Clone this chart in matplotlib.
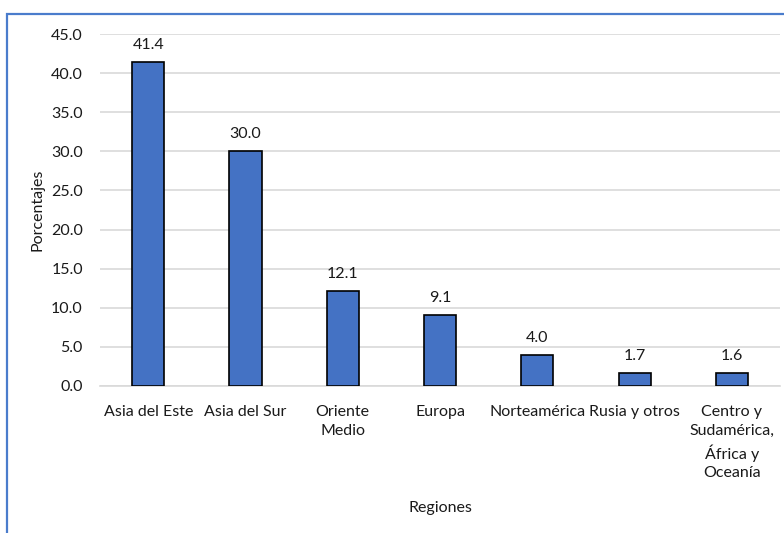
import matplotlib.pyplot as plt
from matplotlib.patches import Rectangle

regiones = ["Asia del Este", "Asia del Sur", "Oriente\nMedio", "Europa",
            "Norteamérica", "Rusia y otros",
            "Centro y\nSudamérica,\nÁfrica y\nOceanía"]
porcentajes = [41.4, 30.0, 12.1, 9.1, 4.0, 1.7, 1.6]
yticks = [0, 5, 10, 15, 20, 25, 30, 35, 40, 45]

plt.rcParams['font.family'] = ['Lato', 'DejaVu Sans']

fig = plt.figure(figsize=(7.84, 5.33), dpi=100)
ax = fig.add_axes([0.127, 0.2758, 0.8685, 0.6604])

# marco azul del gráfico
fig.patches.append(Rectangle((7 / 784, -0.1), 1.2, 1 - 14 / 533 + 0.1,
                             transform=fig.transFigure, fill=False,
                             edgecolor="#4a7ccc", linewidth=1.6))

x = range(len(regiones))
bars = ax.bar(x, porcentajes, width=0.33, color="#4472C4",
              edgecolor="black", linewidth=1.2, zorder=3)
for b, v in zip(bars, porcentajes):
    ax.text(b.get_x() + b.get_width() / 2, v + 1.3, f"{v:.1f}",
            ha="center", va="bottom", fontsize=11.5, color="#1a1a1a")

ax.set_xlim(-0.5, len(regiones) - 0.5)
ax.set_ylim(0, 45)
ax.set_yticks(yticks)
ax.set_yticklabels([f"{t:.1f}" for t in yticks], fontsize=11.5)
ax.set_xticks(list(x))
ax.set_xticklabels(regiones, fontsize=11.5, linespacing=1.42, va="top")
ax.tick_params(axis="both", length=0, colors="#1a1a1a")
ax.tick_params(axis="y", pad=12)
ax.tick_params(axis="x", pad=14)
ax.grid(axis="y", color="#d9d9d9", linewidth=1.2, zorder=0)
for s in ["top", "right", "left"]:
    ax.spines[s].set_visible(False)
ax.spines["bottom"].set_color("#d9d9d9")
ax.spines["bottom"].set_linewidth(1.2)

fig.text(38 / 784, 1 - 210 / 533, "Porcentajes", rotation=90,
         ha="center", va="center", fontsize=11.5, color="#1a1a1a")
fig.text(440 / 784, 1 - 508 / 533, "Regiones", ha="center", va="center",
         fontsize=11.5, color="#1a1a1a")

fig.savefig("out.png", dpi=100)
